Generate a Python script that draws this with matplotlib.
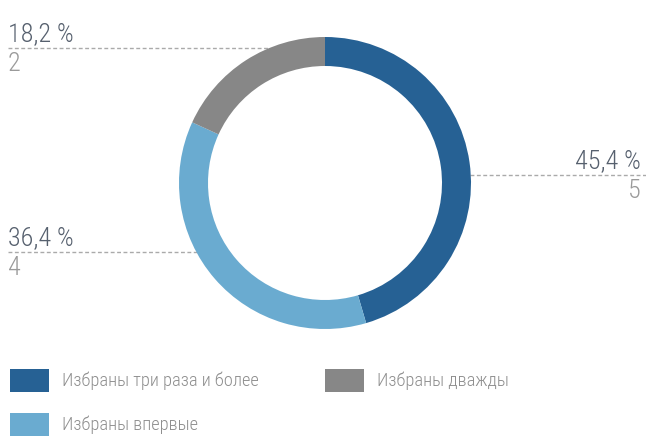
import matplotlib
matplotlib.use("Agg")
import matplotlib.pyplot as plt

categories = ["Избраны три раза и более", "Избраны впервые", "Избраны дважды"]
counts = [5, 4, 2]
percents = ["45,4 %", "36,4 %", "18,2 %"]
colors = ["#266194", "#6aabd0", "#878787"]

W, H = 646, 446
plt.rcParams['font.family'] = ['Roboto Condensed', 'Roboto', 'DejaVu Sans']

fig = plt.figure(figsize=(W / 100, H / 100), dpi=100)
ax = fig.add_axes([0, 0, 1, 1])

def Y(y):
    return H - y

cx, cy, R, ring = 325, 183, 146, 29
ax.pie(counts, colors=colors, startangle=90, counterclock=False,
       center=(cx, Y(cy)), radius=R,
       wedgeprops=dict(width=ring, linewidth=0))
ax.set_xlim(0, W)
ax.set_ylim(0, H)
ax.set_aspect('auto')
ax.axis('off')

dash_col = "#aaaaaa"
kw = dict(color=dash_col, lw=1, dashes=(2.8, 1.8), zorder=0)
# label placements (layout): (slice index, line y, x0, x1, text x, ha)
layout = [
    (0, 175, 470, 646, 641, 'right'),
    (1, 252, 8, 200, 8, 'left'),
    (2, 48, 8, 268, 8, 'left'),
]
for i, ly, x0, x1, tx, ha in layout:
    ax.plot([x0, x1], [Y(ly), Y(ly)], **kw)
    ax.text(tx, Y(ly - 7), percents[i], ha=ha, va='baseline',
            fontsize=18.8, color="#56606e", fontweight='light')
    ax.text(tx, Y(ly + 23), str(counts[i]), ha=ha, va='baseline',
            fontsize=18.8, color="#9a9a9a", fontweight='light')

# legend
leg = [(0, 10, 369), (2, 325, 369), (1, 10, 413)]
for i, lx, ly in leg:
    ax.add_patch(plt.Rectangle((lx, Y(ly + 23)), 39, 23, color=colors[i], lw=0))
    ax.text(lx + 52, Y(ly + 12), categories[i], ha='left', va='center',
            fontsize=13.2, color="#8e8e8e", fontweight='light')

fig.savefig("out.png", dpi=100)
